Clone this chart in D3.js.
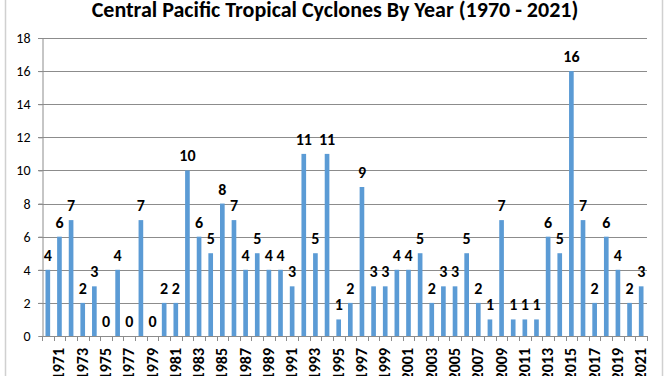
<!DOCTYPE html>
<html lang="en">
<head>
    <meta charset="UTF-8">
    <title>Central Pacific Tropical Cyclones By Year</title>
    <script src="https://d3js.org/d3.v7.min.js"></script>
    <style>
        body { margin: 0; background: #fff; }
        text { font-family: Carlito, "Open Sans", "Liberation Sans", sans-serif; }
    </style>
</head>
<body>
    <div id="chart"></div>
    <script>
        // years 1970 - 2021 and storm counts
        const years = d3.range(1970, 2022).map(String);
        const counts = [4, 6, 7, 2, 3, 0, 4, 0, 7, 0,
                        2, 2, 10, 6, 5, 8, 7, 4, 5, 4,
                        4, 3, 11, 5, 11, 1, 2, 9, 3, 3,
                        4, 4, 5, 2, 3, 3, 5, 2, 1, 7,
                        1, 1, 1, 6, 5, 16, 7, 2, 6, 4,
                        2, 3];
        const yTicks = [0, 2, 4, 6, 8, 10, 12, 14, 16, 18];
        const title = "Central Pacific Tropical Cyclones By Year (1970 - 2021)";

        const data = years.map((y, i) => ({ year: y, count: counts[i] }));

        const width = 668, height = 376;
        const margin = { top: 38, right: 21, bottom: 40, left: 42 };

        const svg = d3.select("#chart").append("svg")
            .attr("width", width)
            .attr("height", height);

        // outer frame lines
        svg.append("line").attr("x1", 5.5).attr("x2", 5.5).attr("y1", 0).attr("y2", height)
            .attr("stroke", "#d0d0d0").attr("stroke-width", 1.5);
        svg.append("line").attr("x1", 662.5).attr("x2", 662.5).attr("y1", 0).attr("y2", height)
            .attr("stroke", "#d0d0d0").attr("stroke-width", 1.5);

        const x = d3.scaleBand()
            .domain(years)
            .range([margin.left, width - margin.right])
            .paddingInner(0.6)
            .paddingOuter(0.3);

        const y = d3.scaleLinear()
            .domain([0, 18])
            .range([height - margin.bottom, margin.top]);

        // gridlines
        svg.append("g")
            .selectAll("line")
            .data(yTicks.filter(d => d > 0))
            .enter().append("line")
            .attr("x1", margin.left - 4)
            .attr("x2", width - margin.right)
            .attr("y1", d => Math.round(y(d)) + 0.5)
            .attr("y2", d => Math.round(y(d)) + 0.5)
            .attr("stroke", "#8c8c8c");

        // bars
        svg.append("g")
            .selectAll("rect")
            .data(data)
            .enter().append("rect")
            .attr("x", d => x(d.year))
            .attr("y", d => y(d.count))
            .attr("width", x.bandwidth())
            .attr("height", d => y(0) - y(d.count))
            .attr("fill", "#5b9bd5");

        // value labels
        svg.append("g")
            .selectAll("text")
            .data(data)
            .enter().append("text")
            .attr("x", d => x(d.year) + x.bandwidth() / 2)
            .attr("y", d => y(d.count) - 9)
            .attr("text-anchor", "middle")
            .style("font-size", "16px")
            .style("font-weight", "bold")
            .attr("fill", "#000")
            .text(d => d.count);

        // y axis
        const yAxis = svg.append("g")
            .attr("transform", "translate(" + (margin.left + 0.5) + ",0)")
            .call(d3.axisLeft(y).tickValues(yTicks).tickSize(4).tickPadding(8));
        yAxis.selectAll("line, path").attr("stroke", "#8c8c8c");
        yAxis.selectAll("text").style("font-size", "14px").attr("fill", "#000");

        // x axis: ticks on band boundaries, labels on odd years
        const x0 = y(0);
        const step = x.step();
        const xAxisG = svg.append("g");
        xAxisG.append("line")
            .attr("x1", margin.left).attr("x2", width - margin.right)
            .attr("y1", Math.round(x0) + 0.5).attr("y2", Math.round(x0) + 0.5)
            .attr("stroke", "#8c8c8c");
        xAxisG.selectAll("line.tick")
            .data(d3.range(years.length + 1))
            .enter().append("line")
            .attr("class", "tick")
            .attr("x1", i => Math.round(x(years[0]) + x.bandwidth() / 2 - step / 2 + i * step) + 0.5)
            .attr("x2", i => Math.round(x(years[0]) + x.bandwidth() / 2 - step / 2 + i * step) + 0.5)
            .attr("y1", Math.round(x0))
            .attr("y2", Math.round(x0) + 5)
            .attr("stroke", "#8c8c8c");
        xAxisG.selectAll("text")
            .data(years.filter(d => +d % 2 === 1))
            .enter().append("text")
            .attr("transform", d => "translate(" + (x(d) + x.bandwidth() / 2 + 5) + "," + (x0 + 12) + ") rotate(-90)")
            .attr("text-anchor", "end")
            .style("font-size", "16px")
            .style("font-weight", "bold")
            .attr("fill", "#000")
            .text(d => d);

        // title
        svg.append("text")
            .attr("x", 335)
            .attr("y", 17)
            .attr("text-anchor", "middle")
            .style("font-size", "22px")
            .style("font-weight", "bold")
            .attr("fill", "#000")
            .text(title);
    </script>
</body>
</html>
